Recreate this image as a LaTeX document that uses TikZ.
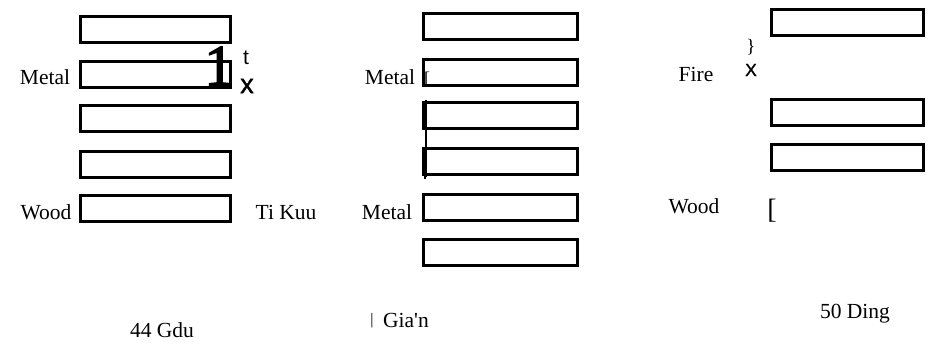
\documentclass[tikz,border=0pt]{standalone}
\usepackage{fontspec}
\setmainfont{Liberation Serif}
\newfontfamily\sansf{Liberation Sans}
\newfontfamily\plainserif{Liberation Serif}
\newfontfamily\heavyserif{Liberation Serif}[FakeBold=2.5]
\newfontfamily\heavysans{Liberation Sans}[FakeBold=1.2]
\begin{document}
\begin{tikzpicture}[x=0.5pt,y=-0.5pt,
  bx/.style={draw=black,line width=1.5pt,inner sep=0pt,minimum height=13pt},
  bxa/.style={bx,minimum width=75pt},
  bxb/.style={bx,minimum width=77pt},
  bxc/.style={bx,minimum width=76pt},
  lbl/.style={inner sep=0pt,font=\fontsize{10.75}{12}\selectfont}]
\useasboundingbox (0,0) rectangle (933,344);
% panel 1
\node[bxa] (a1) at (155.5,29) {};
\node[bxa] (a2) at (155.5,74) {};
\node[bxa] (a3) at (155.5,118.5) {};
\node[bxa] (a4) at (155.5,164) {};
\node[bxa] (a5) at (155.5,208.5) {};
\node[lbl] (m1) at (45,77) {Metal};
\node[lbl] (w1) at (46,212) {Wood};
\node[lbl] (tk) at (286,212) {Ti Kuu};
\node[inner sep=0pt,font=\heavyserif\fontsize{29}{30}\selectfont] (one) at (219,66) {1};
\node[inner sep=0pt,font=\sansf\fontsize{10.5}{12}\selectfont] (tt) at (246,58) {t};
\node[inner sep=0pt,font=\heavysans\fontsize{13.5}{14}\selectfont] (xx) at (247,86) {x};
% panel 2
\node[bxb] (b1) at (500.5,26.5) {};
\node[bxb] (b2) at (500.5,72) {};
\node[bxb] (b3) at (500.5,115) {};
\node[bxb] (b4) at (500.5,161) {};
\node[bxb] (b5) at (500.5,207) {};
\node[bxb] (b6) at (500.5,252.5) {};
\node[lbl] (m2) at (390,77) {Metal};
\node[lbl] (m3) at (387,212) {Metal};
\node[inner sep=0pt,font=\fontsize{9}{10}\selectfont] (br2) at (427,79) {[};
\coordinate (v1) at (426,100);
\coordinate (v2) at (426,177);
\draw[line width=0.8pt] (v1) -- (v2);
\draw[line width=1.5pt] (424,177) -- (v2);
% panel 3
\node[bxc] (c1) at (847.5,22) {};
\node[bxc] (c2) at (847.5,112) {};
\node[bxc] (c3) at (847.5,157.5) {};
\node[lbl] (fi) at (696,74) {Fire};
\node[inner sep=0pt,font=\heavysans\fontsize{8.75}{10}\selectfont] (xc) at (751,70) {X};
\node[inner sep=0pt,font=\fontsize{9.5}{10}\selectfont] (cb) at (751,47) {\}};
\node[lbl] (w3) at (694,206) {Wood};
\node[inner sep=0pt,font=\fontsize{14}{15}\selectfont] (br3) at (772,211) {[};
% bottom labels
\node[lbl] (g1) at (162,330) {44 Gdu};
\node[inner sep=0pt,font=\fontsize{8}{9}\selectfont] (bar) at (372,321) {|};
\node[inner sep=0pt,font=\plainserif\fontsize{10.75}{12}\selectfont] (g2) at (406,320) {Gia'n};
\node[lbl] (g3) at (855,314) {50 Ding};
\end{tikzpicture}
\end{document}
